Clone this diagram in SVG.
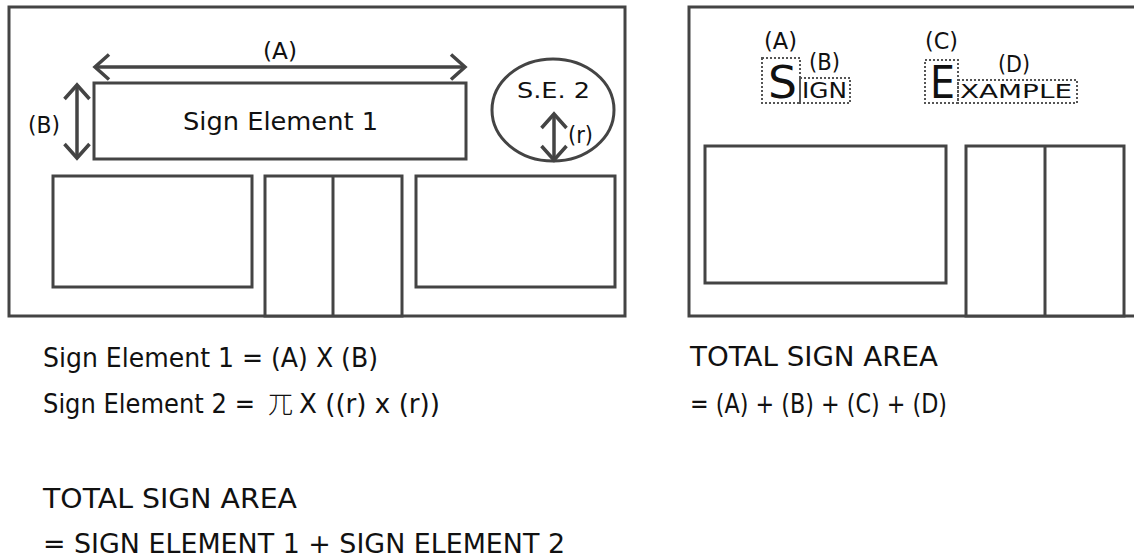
<svg xmlns="http://www.w3.org/2000/svg" width="1134" height="558" viewBox="0 0 1134 558">
  <style>
    .frame { fill: none; stroke: #444; stroke-width: 3; }
    .box { fill: #fff; stroke: #444; stroke-width: 3; }
    .dot { fill: none; stroke: #555; stroke-width: 2; stroke-dasharray: 2 2; }
    .arrow { fill: none; stroke: #444; stroke-width: 3.5; }
    text { font-family: "DejaVu Sans", "Liberation Sans", sans-serif; fill: #111; }
    .lbl { font-size: 23px; }
    .big { font-size: 26px; }
    .cjk { font-family: "Noto Sans CJK SC", "Noto Sans CJK JP", sans-serif; font-weight: 300; }
  </style>
  <defs>
    <marker id="chev" markerUnits="userSpaceOnUse" markerWidth="40" markerHeight="40" refX="0" refY="0" orient="auto-start-reverse" overflow="visible">
      <path d="M -14 -12.5 L 0 0 L -14 12.5" fill="none" stroke="#444" stroke-width="3.5"/>
    </marker>
  </defs>
  <rect width="1134" height="558" fill="#fff"/>

  <!-- Left panel -->
  <g id="left-frame">
    <rect class="frame" x="9" y="7" width="616" height="309"/>
  </g>
  <g id="sign-element-1">
    <rect class="box" x="94" y="83" width="372" height="76"/>
    <text x="183" y="130" style="font-size:24px" textLength="195" lengthAdjust="spacingAndGlyphs">Sign Element 1</text>
  </g>
  <g id="sign-element-2">
    <ellipse class="box" cx="553" cy="110" rx="61" ry="51"/>
    <text x="517" y="98" style="font-size:22px" textLength="73" lengthAdjust="spacingAndGlyphs">S.E. 2</text>
  </g>
  <g id="left-window-1"><rect class="box" x="53" y="176" width="199" height="111"/></g>
  <g id="left-door">
    <rect class="box" x="265" y="176" width="137" height="140"/>
    <line class="frame" x1="333" y1="176" x2="333" y2="316"/>
  </g>
  <g id="left-window-2"><rect class="box" x="416" y="176" width="199" height="111"/></g>

  <g id="connectors">
    <line class="arrow" x1="95" y1="67" x2="465" y2="67" marker-start="url(#chev)" marker-end="url(#chev)"/>
    <line class="arrow" x1="77" y1="85" x2="77" y2="158" marker-start="url(#chev)" marker-end="url(#chev)"/>
    <line class="arrow" x1="554" y1="114" x2="554" y2="160" marker-start="url(#chev)" marker-end="url(#chev)"/>
  </g>

  <g id="dimension-labels">
    <text class="lbl" x="263" y="59" textLength="34" lengthAdjust="spacingAndGlyphs">(A)</text>
    <text class="lbl" x="28" y="133" textLength="32" lengthAdjust="spacingAndGlyphs">(B)</text>
    <text class="lbl" x="568" y="143" textLength="25" lengthAdjust="spacingAndGlyphs">(r)</text>
  </g>

  <!-- Right panel -->
  <g id="right-frame">
    <path class="frame" d="M 1140 7 H 689 V 316 H 1140"/>
  </g>
  <g id="right-window"><rect class="box" x="705" y="146" width="241" height="137"/></g>
  <g id="right-door">
    <rect class="box" x="966" y="146" width="158" height="170"/>
    <line class="frame" x1="1045" y1="146" x2="1045" y2="316"/>
  </g>
  <g id="sign-word">
    <rect class="dot" x="762" y="58" width="38" height="45"/>
    <rect class="dot" x="800" y="78" width="50" height="25"/>
    <text x="768" y="98" style="font-size:45px" textLength="29" lengthAdjust="spacingAndGlyphs">S</text>
    <text x="802" y="98" style="font-size:21px" textLength="45" lengthAdjust="spacingAndGlyphs">IGN</text>
    <text class="lbl" x="764" y="49" textLength="33" lengthAdjust="spacingAndGlyphs">(A)</text>
    <text class="lbl" x="809" y="70" textLength="31" lengthAdjust="spacingAndGlyphs">(B)</text>
  </g>
  <g id="example-word">
    <rect class="dot" x="925" y="60" width="33" height="43"/>
    <rect class="dot" x="958" y="80" width="119" height="23"/>
    <text x="930" y="98" style="font-size:45px" textLength="25" lengthAdjust="spacingAndGlyphs">E</text>
    <text x="960" y="98" style="font-size:20px" textLength="112" lengthAdjust="spacingAndGlyphs">XAMPLE</text>
    <text class="lbl" x="925" y="49" textLength="33" lengthAdjust="spacingAndGlyphs">(C)</text>
    <text class="lbl" x="998" y="72" textLength="32" lengthAdjust="spacingAndGlyphs">(D)</text>
  </g>

  <!-- Formulas -->
  <g id="left-formulas">
    <text class="big" x="43" y="413" textLength="212" lengthAdjust="spacingAndGlyphs">Sign Element 2 =</text>
    <text class="big cjk" x="268" y="413" style="font-size:25px">兀</text>
    <text class="big" x="299" y="413" textLength="141" lengthAdjust="spacingAndGlyphs">X ((r) x (r))</text>
    <text class="big" x="43" y="367" textLength="335" lengthAdjust="spacingAndGlyphs">Sign Element 1 = (A) X (B)</text>
    <text class="big" x="43" y="508" textLength="254" lengthAdjust="spacingAndGlyphs">TOTAL SIGN AREA</text>
    <text class="big" x="43" y="553" textLength="522" lengthAdjust="spacingAndGlyphs">= SIGN ELEMENT 1 + SIGN ELEMENT 2</text>
  </g>
  <g id="right-formulas">
    <text class="big" x="690" y="366" textLength="248" lengthAdjust="spacingAndGlyphs">TOTAL SIGN AREA</text>
    <text class="big" x="690" y="413" textLength="257" lengthAdjust="spacingAndGlyphs">= (A) + (B) + (C) + (D)</text>
  </g>
</svg>
